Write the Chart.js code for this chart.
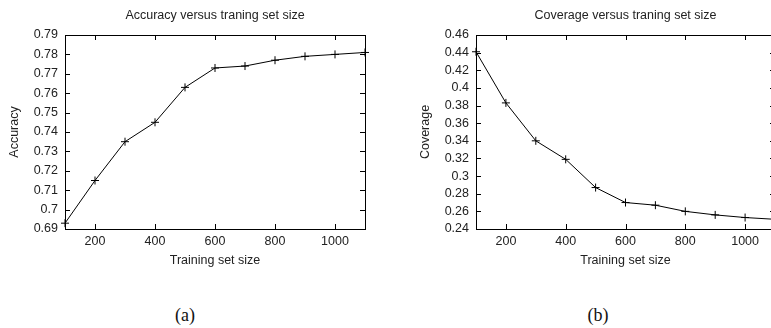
<!DOCTYPE html>
<html>
<head>
<meta charset="utf-8">
<script src="https://cdn.jsdelivr.net/npm/chart.js@4/dist/chart.umd.min.js"></script>
<style>
  html, body { margin: 0; padding: 0; background: #fff; overflow: hidden; width: 771px; height: 328px; }
  canvas { position: absolute; top: 0; }
  #chartA { left: 0; }
  #chartB { left: 385px; }
  .cap { position: absolute; top: 305px; font: 18px "Liberation Serif", "DejaVu Serif", serif; color: #111; transform: translateX(-50%); }
</style>
</head>
<body>
<canvas id="chartA" width="385" height="280"></canvas>
<canvas id="chartB" width="400" height="280"></canvas>
<div class="cap" style="left:185px">(a)</div>
<div class="cap" style="left:598px">(b)</div>
<script>
var sizes = [100, 200, 300, 400, 500, 600, 700, 800, 900, 1000, 1100];
var accuracy = [0.693, 0.715, 0.735, 0.745, 0.763, 0.773, 0.774, 0.777, 0.779, 0.780, 0.781];
var coverage = [0.441, 0.383, 0.340, 0.319, 0.287, 0.270, 0.267, 0.260, 0.256, 0.253, 0.251];
var xTicks = [200, 400, 600, 800, 1000];
var accTicks = [0.69, 0.7, 0.71, 0.72, 0.73, 0.74, 0.75, 0.76, 0.77, 0.78, 0.79];
var covTicks = [0.24, 0.26, 0.28, 0.3, 0.32, 0.34, 0.36, 0.38, 0.4, 0.42, 0.44, 0.46];

Chart.defaults.font.family = '"Liberation Sans", Arial, sans-serif';
Chart.defaults.font.size = 12.5;
Chart.defaults.color = "#222";

// gnuplot style frame with inward ticks on all four sides
var frameTicks = {
  id: "frameTicks",
  afterDatasetsDraw: function (chart) {
    var c = chart.ctx, a = chart.chartArea;
    var xs = chart.scales.x, ys = chart.scales.y;
    var len = 5;
    c.save();
    c.strokeStyle = "#000";
    c.lineWidth = 1;
    c.beginPath();
    xs.ticks.forEach(function (t) {
      var px = Math.round(xs.getPixelForValue(t.value)) + 0.5;
      c.moveTo(px, a.bottom); c.lineTo(px, a.bottom - len);
      c.moveTo(px, a.top); c.lineTo(px, a.top + len);
    });
    ys.ticks.forEach(function (t) {
      var py = Math.round(ys.getPixelForValue(t.value)) + 0.5;
      c.moveTo(a.left, py); c.lineTo(a.left + len, py);
      c.moveTo(a.right, py); c.lineTo(a.right - len, py);
    });
    c.stroke();
    c.strokeRect(Math.round(a.left) + 0.5, Math.round(a.top) + 0.5,
      Math.round(a.right - a.left), Math.round(a.bottom - a.top));
    c.restore();
  }
};

function makeChart(id, title, yLabel, values, yTicks, yAxisWidth, yTitlePad, padRight) {
  var pts = sizes.map(function (s, i) { return { x: s, y: values[i] }; });
  return new Chart(document.getElementById(id), {
    type: "line",
    data: {
      datasets: [{
        data: pts,
        borderColor: "#000",
        borderWidth: 1,
        pointStyle: "cross",
        pointRadius: 4,
        pointBorderColor: "#000",
        pointBorderWidth: 1,
        tension: 0,
        clip: false
      }]
    },
    options: {
      responsive: false,
      animation: false,
      layout: { padding: { left: 0, right: padRight, top: 0, bottom: 0 } },
      plugins: {
        legend: { display: false },
        tooltip: { enabled: false },
        title: {
          display: true,
          text: title,
          fullSize: false,
          color: "#222",
          font: { size: 12.5, weight: "normal" },
          padding: { top: 8.5, bottom: 11.5 }
        }
      },
      scales: {
        x: {
          type: "linear",
          min: sizes[0],
          max: sizes[sizes.length - 1],
          grid: { display: false, drawTicks: false },
          border: { display: false },
          ticks: {
            padding: 5,
            autoSkip: false,
            maxRotation: 0,
            callback: function (v) { return String(v); }
          },
          afterBuildTicks: function (s) { s.ticks = xTicks.map(function (v) { return { value: v }; }); },
          afterFit: function (s) { s.height = 51; },
          title: { display: true, text: "Training set size", color: "#222", font: { size: 12.5 }, padding: { top: 0, bottom: 11.5 } }
        },
        y: {
          type: "linear",
          min: yTicks[0],
          max: yTicks[yTicks.length - 1],
          grid: { display: false, drawTicks: false },
          border: { display: false },
          ticks: {
            padding: 7,
            autoSkip: false,
            callback: function (v) { return String(+v.toFixed(2)); }
          },
          afterBuildTicks: function (s) { s.ticks = yTicks.map(function (v) { return { value: v }; }); },
          afterFit: function (s) { s.width = yAxisWidth; },
          title: { display: true, text: yLabel, color: "#222", font: { size: 12.5 }, padding: { top: yTitlePad, bottom: 0 } }
        }
      }
    },
    plugins: [frameTicks]
  });
}

makeChart("chartA", "Accuracy versus traning set size", "Accuracy", accuracy, accTicks, 65, 7.5, 20);
makeChart("chartB", "Coverage versus traning set size", "Coverage", coverage, covTicks, 91, 33, 10);
</script>
</body>
</html>
